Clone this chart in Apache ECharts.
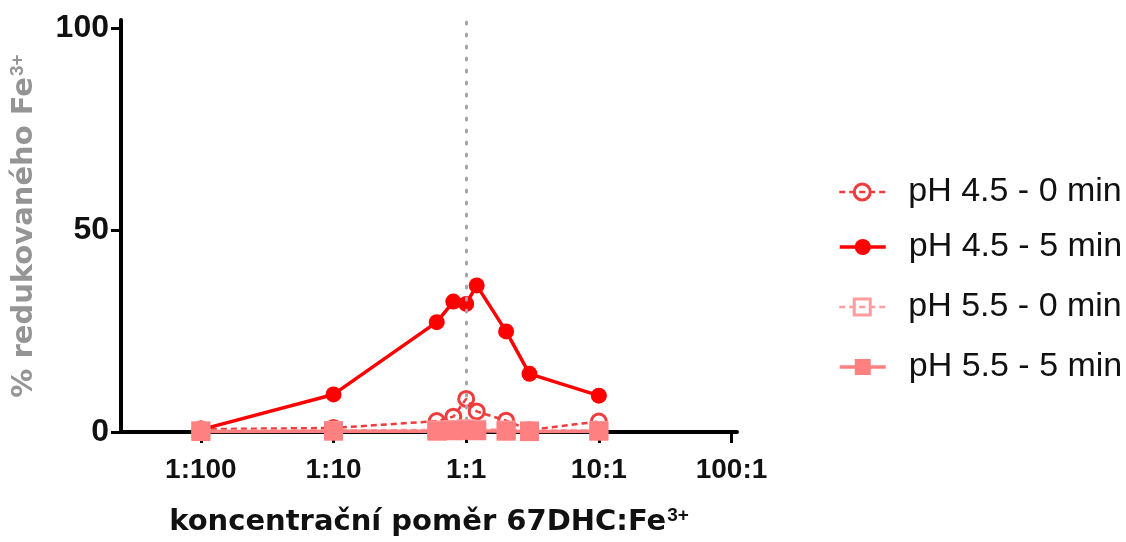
<!DOCTYPE html>
<html>
<head>
<meta charset="utf-8">
<script src="https://cdn.jsdelivr.net/npm/echarts@6/dist/echarts.min.js"></script>
<style>
  html, body { margin: 0; padding: 0; background: #fff; }
  #chart { width: 1126px; height: 542px; }
</style>
</head>
<body>
<div id="chart"></div>
<script>
// Molar ratio 67DHC : Fe3+ (x), percentage of reduced Fe3+ (y)
const ratios = [0.01, 0.1, 0.6, 0.8, 1, 1.2, 2, 3, 10];
const ph45_0min = [0.7, 1.0, 2.7, 3.8, 8.2, 5.1, 2.8, 0.5, 2.6];
const ph45_5min = [0.6, 9.3, 27.2, 32.3, 31.7, 36.3, 24.9, 14.4, 9.0];
const ph55_0min = [0.3, 0.4, 0.5, 0.6, 0.8, 0.7, 0.5, 0.3, 0.4];
const ph55_5min = [0.1, 0.2, 0.2, 0.3, 0.4, 0.3, 0.2, 0.1, 0.2];

const seriesNames = ['pH 4.5 - 0 min', 'pH 4.5 - 5 min', 'pH 5.5 - 0 min', 'pH 5.5 - 5 min'];
const xTickValues = [0.01, 0.1, 1, 10, 100];
const xTickLabels = ['1:100', '1:10', '1:1', '10:1', '100:1'];
const yTickValues = [0, 50, 100];

const FONT = 'Liberation Sans, Arial, sans-serif';
const TITLE_FONT = 'DejaVu Sans, Verdana, sans-serif';
const pairs = (ys) => ratios.map((x, i) => [x, ys[i]]);

// per-series look, shared by the plot and the legend
const looks = [
  { color: '#f03c3c', width: 2.5, dash: [6, 4], open: true },
  { color: '#ff0000', width: 3.5, dash: 'solid', open: false },
  { color: '#ff9c9c', width: 2.5, dash: [6, 4], open: true },
  { color: '#ff8080', width: 3.5, dash: 'solid', open: false }
];

const chart = echarts.init(document.getElementById('chart'), null, { renderer: 'canvas' });

const legendCenters = [192, 247, 307, 367];

const option = {
  backgroundColor: '#ffffff',
  animation: false,
  grid: { left: 121, right: 389, top: 20, bottom: 108, containLabel: false },
  xAxis: {
    type: 'log',
    logBase: 10,
    min: 0.0025,
    max: 110,
    name: 'koncentrační poměr 67DHC:Fe{sup|3+}',
    nameLocation: 'middle',
    nameGap: 74,
    nameTextStyle: {
      fontFamily: TITLE_FONT, fontSize: 29, fontWeight: 'bold', color: '#111',
      rich: { sup: { fontFamily: FONT, fontSize: 19, fontWeight: 'bold', color: '#111', verticalAlign: 'top', padding: [0, 0, 14, 1] } }
    },
    axisLine: { show: true, onZero: false, lineStyle: { color: '#000', width: 4 } },
    axisTick: { show: true, customValues: xTickValues, length: 11, inside: false, lineStyle: { color: '#000', width: 3 } },
    axisLabel: {
      customValues: xTickValues,
      margin: 24,
      fontFamily: FONT, fontSize: 28, fontWeight: 'bold', color: '#111',
      formatter: (v) => {
        const i = xTickValues.findIndex(t => Math.abs(Math.log10(t) - Math.log10(v)) < 1e-6);
        return i >= 0 ? xTickLabels[i] : '';
      }
    },
    splitLine: { show: false },
    minorTick: { show: false }
  },
  yAxis: {
    type: 'value',
    min: 0,
    max: 102,
    name: '% redukovaného Fe{sup|3+}',
    nameLocation: 'middle',
    nameGap: 80,
    nameRotate: 90,
    nameTextStyle: {
      fontFamily: TITLE_FONT, fontSize: 29, fontWeight: 'bold', color: '#959595',
      rich: { sup: { fontFamily: FONT, fontSize: 19, fontWeight: 'bold', color: '#959595', verticalAlign: 'top', padding: [0, 0, 14, 1] } }
    },
    axisLine: { show: true, onZero: false, lineStyle: { color: '#000', width: 4 } },
    axisTick: { show: true, customValues: yTickValues, length: 10, lineStyle: { color: '#000', width: 3 } },
    axisLabel: {
      customValues: yTickValues,
      margin: 12,
      fontFamily: FONT, fontSize: 32, fontWeight: 'bold', color: '#111'
    },
    splitLine: { show: false }
  },
  legend: seriesNames.map((n, i) => ({
    data: [n],
    orient: 'vertical',
    left: 833,
    top: legendCenters[i] - 17,
    padding: [0, 5, 0, 5],
    itemWidth: 46,
    itemHeight: 20,
    selectedMode: false,
    lineStyle: { width: looks[i].width, color: looks[i].color, type: looks[i].dash },
    itemStyle: looks[i].open
      ? { color: 'rgba(255,255,255,0)', borderColor: looks[i].color, borderWidth: 3 }
      : { color: looks[i].color, borderWidth: 0 },
    textStyle: { fontFamily: FONT, fontSize: 34, color: '#111', padding: [0, 0, 0, 18] }
  })),
  series: [
    {
      // vertical reference at the 1:1 ratio
      name: 'ref',
      type: 'line',
      data: [],
      silent: true,
      z: 1,
      markLine: {
        silent: true,
        symbol: ['none', 'none'],
        label: { show: false },
        lineStyle: { color: '#a6a6a6', width: 3, type: [2, 10], cap: 'round' },
        data: [{ xAxis: 1 }]
      }
    },
    {
      name: seriesNames[0],
      type: 'line',
      data: pairs(ph45_0min),
      symbol: 'circle',
      symbolSize: 15,
      z: 3,
      lineStyle: { color: looks[0].color, width: looks[0].width, type: looks[0].dash },
      itemStyle: { color: 'rgba(255,255,255,0)', borderColor: looks[0].color, borderWidth: 3 }
    },
    {
      name: seriesNames[1],
      type: 'line',
      data: pairs(ph45_5min),
      symbol: 'circle',
      symbolSize: 16,
      z: 4,
      lineStyle: { color: looks[1].color, width: looks[1].width },
      itemStyle: { color: looks[1].color }
    },
    {
      name: seriesNames[2],
      type: 'line',
      data: pairs(ph55_0min),
      symbol: 'rect',
      symbolSize: 16,
      z: 5,
      lineStyle: { color: looks[2].color, width: looks[2].width, type: looks[2].dash },
      itemStyle: { color: 'rgba(255,255,255,0)', borderColor: looks[2].color, borderWidth: 3 }
    },
    {
      name: seriesNames[3],
      type: 'line',
      data: pairs(ph55_5min),
      symbol: 'rect',
      symbolSize: 19,
      z: 6,
      lineStyle: { color: looks[3].color, width: looks[3].width },
      itemStyle: { color: looks[3].color }
    }
  ]
};

chart.setOption(option);
</script>
</body>
</html>
